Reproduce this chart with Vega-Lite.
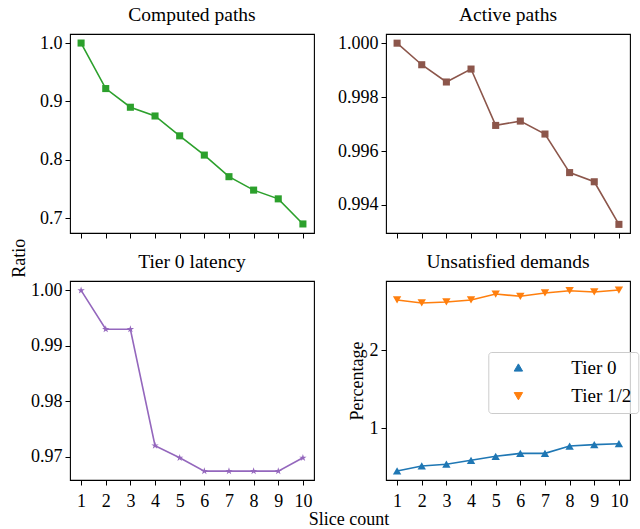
{
  "$schema": "https://vega.github.io/schema/vega-lite/v6.json",
  "padding": {"left": 9, "top": 3, "right": 9, "bottom": 0},
  "background": "white",
  "datasets": {
    "rows": [
      {"panel": "computed", "series": "Computed paths", "slices": 1, "value": 1.000},
      {"panel": "computed", "series": "Computed paths", "slices": 2, "value": 0.922},
      {"panel": "computed", "series": "Computed paths", "slices": 3, "value": 0.890},
      {"panel": "computed", "series": "Computed paths", "slices": 4, "value": 0.875},
      {"panel": "computed", "series": "Computed paths", "slices": 5, "value": 0.841},
      {"panel": "computed", "series": "Computed paths", "slices": 6, "value": 0.808},
      {"panel": "computed", "series": "Computed paths", "slices": 7, "value": 0.771},
      {"panel": "computed", "series": "Computed paths", "slices": 8, "value": 0.748},
      {"panel": "computed", "series": "Computed paths", "slices": 9, "value": 0.733},
      {"panel": "computed", "series": "Computed paths", "slices": 10, "value": 0.690},
      {"panel": "active", "series": "Active paths", "slices": 1, "value": 1.00000},
      {"panel": "active", "series": "Active paths", "slices": 2, "value": 0.99920},
      {"panel": "active", "series": "Active paths", "slices": 3, "value": 0.99856},
      {"panel": "active", "series": "Active paths", "slices": 4, "value": 0.99904},
      {"panel": "active", "series": "Active paths", "slices": 5, "value": 0.99695},
      {"panel": "active", "series": "Active paths", "slices": 6, "value": 0.99711},
      {"panel": "active", "series": "Active paths", "slices": 7, "value": 0.99663},
      {"panel": "active", "series": "Active paths", "slices": 8, "value": 0.99520},
      {"panel": "active", "series": "Active paths", "slices": 9, "value": 0.99486},
      {"panel": "active", "series": "Active paths", "slices": 10, "value": 0.99328},
      {"panel": "latency", "series": "Tier 0 latency", "slices": 1, "value": 1.0000},
      {"panel": "latency", "series": "Tier 0 latency", "slices": 2, "value": 0.9930},
      {"panel": "latency", "series": "Tier 0 latency", "slices": 3, "value": 0.9930},
      {"panel": "latency", "series": "Tier 0 latency", "slices": 4, "value": 0.9720},
      {"panel": "latency", "series": "Tier 0 latency", "slices": 5, "value": 0.9698},
      {"panel": "latency", "series": "Tier 0 latency", "slices": 6, "value": 0.9674},
      {"panel": "latency", "series": "Tier 0 latency", "slices": 7, "value": 0.9674},
      {"panel": "latency", "series": "Tier 0 latency", "slices": 8, "value": 0.9674},
      {"panel": "latency", "series": "Tier 0 latency", "slices": 9, "value": 0.9674},
      {"panel": "latency", "series": "Tier 0 latency", "slices": 10, "value": 0.9698},
      {"panel": "unsat", "series": "Tier 0", "slices": 1, "value": 0.457},
      {"panel": "unsat", "series": "Tier 0", "slices": 2, "value": 0.521},
      {"panel": "unsat", "series": "Tier 0", "slices": 3, "value": 0.543},
      {"panel": "unsat", "series": "Tier 0", "slices": 4, "value": 0.593},
      {"panel": "unsat", "series": "Tier 0", "slices": 5, "value": 0.644},
      {"panel": "unsat", "series": "Tier 0", "slices": 6, "value": 0.682},
      {"panel": "unsat", "series": "Tier 0", "slices": 7, "value": 0.682},
      {"panel": "unsat", "series": "Tier 0", "slices": 8, "value": 0.775},
      {"panel": "unsat", "series": "Tier 0", "slices": 9, "value": 0.793},
      {"panel": "unsat", "series": "Tier 0", "slices": 10, "value": 0.805},
      {"panel": "unsat", "series": "Tier 1/2", "slices": 1, "value": 2.639},
      {"panel": "unsat", "series": "Tier 1/2", "slices": 2, "value": 2.601},
      {"panel": "unsat", "series": "Tier 1/2", "slices": 3, "value": 2.614},
      {"panel": "unsat", "series": "Tier 1/2", "slices": 4, "value": 2.639},
      {"panel": "unsat", "series": "Tier 1/2", "slices": 5, "value": 2.715},
      {"panel": "unsat", "series": "Tier 1/2", "slices": 6, "value": 2.686},
      {"panel": "unsat", "series": "Tier 1/2", "slices": 7, "value": 2.728},
      {"panel": "unsat", "series": "Tier 1/2", "slices": 8, "value": 2.757},
      {"panel": "unsat", "series": "Tier 1/2", "slices": 9, "value": 2.741},
      {"panel": "unsat", "series": "Tier 1/2", "slices": 10, "value": 2.766}
    ]
  },
  "data": {"name": "rows"},
  "columns": 2,
  "spacing": {"row": 48, "column": 72},
  "bounds": "flush",
  "concat": [
    {
      "width": 244, "height": 199,
      "title": "Computed paths",
      "transform": [{"filter": "datum.panel === 'computed'"}],
      "mark": {"type": "line", "color": "#2ca02c", "strokeWidth": 1.6,
        "point": {"shape": "square", "size": 50, "filled": true, "color": "#2ca02c", "opacity": 1}},
      "encoding": {
        "x": {"field": "slices", "type": "quantitative",
          "scale": {"domain": [0.55, 10.45], "nice": false, "zero": false},
          "axis": {"values": [1, 2, 3, 4, 5, 6, 7, 8, 9, 10], "labels": false, "title": null}},
        "y": {"field": "value", "type": "quantitative",
          "scale": {"domain": [0.6745, 1.0155], "nice": false, "zero": false},
          "axis": {"values": [0.7, 0.8, 0.9, 1.0], "format": ".1f", "title": "Ratio",
            "titleX": -51, "titleY": 223.7, "titleAngle": 270, "titleAlign": "center", "titleBaseline": "middle"}}
      }
    },
    {
      "width": 244, "height": 199,
      "title": "Active paths",
      "transform": [{"filter": "datum.panel === 'active'"}],
      "mark": {"type": "line", "color": "#8c564b", "strokeWidth": 1.6,
        "point": {"shape": "square", "size": 50, "filled": true, "color": "#8c564b", "opacity": 1}},
      "encoding": {
        "x": {"field": "slices", "type": "quantitative",
          "scale": {"domain": [0.55, 10.45], "nice": false, "zero": false},
          "axis": {"values": [1, 2, 3, 4, 5, 6, 7, 8, 9, 10], "labels": false, "title": null}},
        "y": {"field": "value", "type": "quantitative",
          "scale": {"domain": [0.99296, 1.00034], "nice": false, "zero": false},
          "axis": {"values": [0.994, 0.996, 0.998, 1.0], "format": ".3f", "title": null}}
      }
    },
    {
      "width": 244, "height": 199,
      "title": "Tier 0 latency",
      "transform": [{"filter": "datum.panel === 'latency'"}],
      "mark": {"type": "line", "color": "#9467bd", "strokeWidth": 1.6,
        "point": {"shape": "M0,-1L0.225,-0.309L0.951,-0.309L0.363,0.118L0.588,0.809L0,0.382L-0.588,0.809L-0.363,0.118L-0.951,-0.309L-0.225,-0.309Z", "size": 60, "filled": true, "color": "#9467bd", "opacity": 1}},
      "encoding": {
        "x": {"field": "slices", "type": "quantitative",
          "scale": {"domain": [0.55, 10.45], "nice": false, "zero": false},
          "axis": {"values": [1, 2, 3, 4, 5, 6, 7, 8, 9, 10], "format": "d", "title": "Slice count",
            "titleX": 278.5, "titleY": 44.7, "titleAlign": "center", "titleBaseline": "alphabetic"}},
        "y": {"field": "value", "type": "quantitative",
          "scale": {"domain": [0.9658, 1.0017], "nice": false, "zero": false},
          "axis": {"values": [0.97, 0.98, 0.99, 1.0], "format": ".2f", "title": null}}
      }
    },
    {
      "width": 244, "height": 199,
      "title": "Unsatisfied demands",
      "transform": [{"filter": "datum.panel === 'unsat'"}],
      "encoding": {
        "x": {"field": "slices", "type": "quantitative",
          "scale": {"domain": [0.55, 10.45], "nice": false, "zero": false},
          "axis": {"values": [1, 2, 3, 4, 5, 6, 7, 8, 9, 10], "format": "d", "title": null}},
        "y": {"field": "value", "type": "quantitative",
          "scale": {"domain": [0.342, 2.881], "nice": false, "zero": false},
          "axis": {"values": [1, 2], "format": "d", "title": "Percentage", "titlePadding": 3}},
        "color": {"field": "series", "type": "nominal",
          "scale": {"domain": ["Tier 0", "Tier 1/2"], "range": ["#1f77b4", "#ff7f0e"]},
          "legend": {
            "title": null, "orient": "none", "legendX": 418.3, "legendY": 318,
            "symbolSize": 70, "symbolStrokeWidth": 1, "symbolOffset": 14.6, "labelOffset": 43.4,
            "padding": 6, "rowPadding": 8.7,
            "strokeColor": "#cccccc", "fillColor": "rgba(255,255,255,0.8)", "cornerRadius": 3,
            "labelFontSize": 19, "labelFont": "Liberation Serif", "labelColor": "black"
          }}
      },
      "layer": [
        {"mark": {"type": "line", "strokeWidth": 1.6}},
        {"mark": {"type": "point", "filled": true, "size": 70, "opacity": 1},
          "encoding": {"shape": {"field": "series", "type": "nominal",
            "scale": {"domain": ["Tier 0", "Tier 1/2"], "range": ["triangle-up", "triangle-down"]},
            "legend": null}}}
      ]
    }
  ],
  "config": {
    "font": "Liberation Serif",
    "view": {"stroke": "black", "strokeWidth": 1.1},
    "axis": {"domain": false, "grid": false, "ticks": true, "tickColor": "black", "tickSize": 5, "tickWidth": 1,
      "labelFont": "Liberation Serif", "labelFontSize": 18, "labelColor": "black", "labelPadding": 3,
      "titleFont": "Liberation Serif", "titleFontSize": 18, "titleFontWeight": "normal", "titleColor": "black"},
    "axisX": {"labelPadding": 7},
    "title": {"font": "Liberation Serif", "fontSize": 19.5, "fontWeight": "normal", "color": "black", "offset": 9, "baseline": "alphabetic"}
  }
}
